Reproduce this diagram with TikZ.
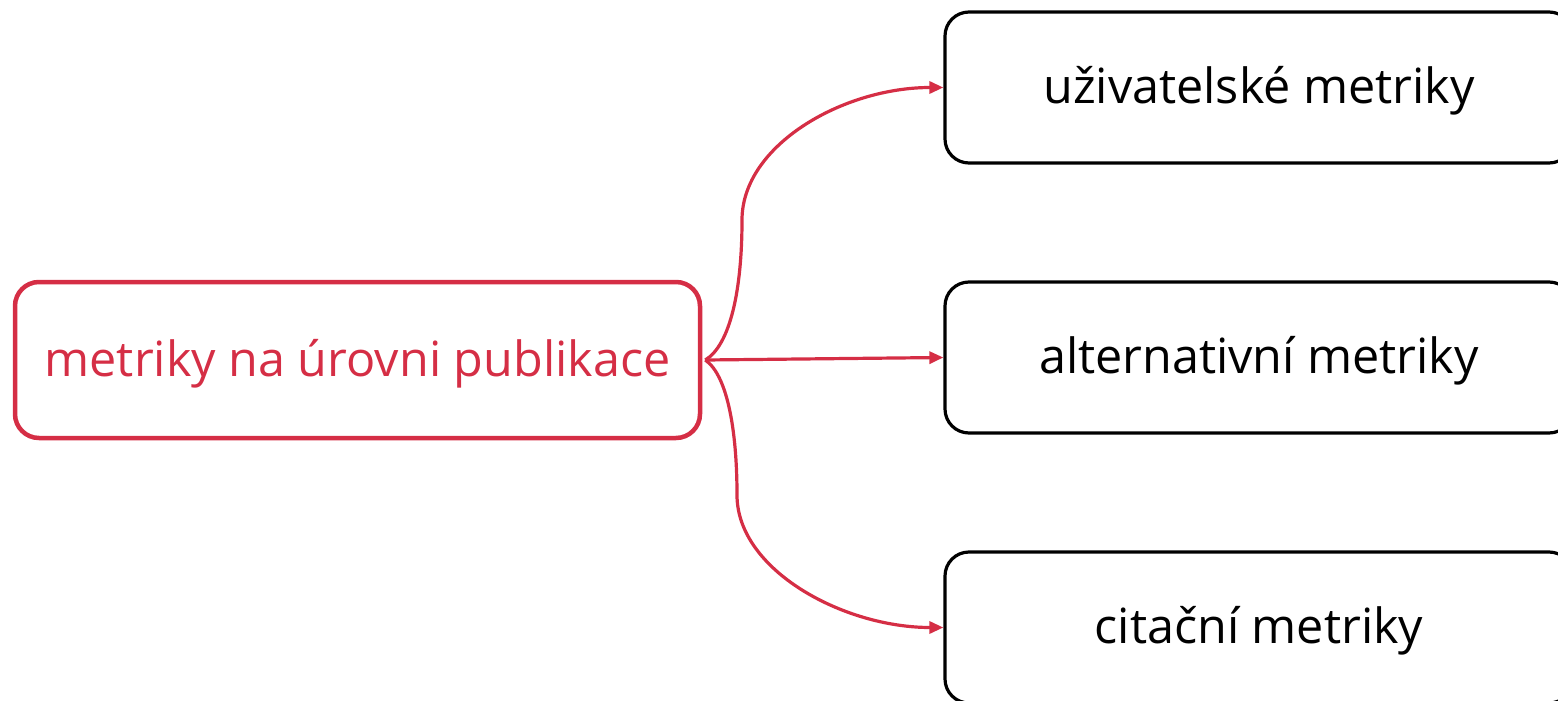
\documentclass[tikz,border=0pt]{standalone}
\usepackage{fontspec}
\setmainfont{Open Sans}
\usetikzlibrary{arrows.meta}
\definecolor{accent}{HTML}{D52E45}
\tikzset{
  boxtext/.style={font=\fontsize{48.5}{56}\selectfont, text height=44pt, text depth=12pt},
  rootbox/.style={boxtext, draw=accent, line width=4.5pt, rounded corners=24pt, minimum width=685pt, minimum height=156pt, text=accent},
  leafbox/.style={boxtext, draw=black, line width=3.2pt, rounded corners=24pt, minimum width=628pt, minimum height=151pt, text=black},
  conn/.style={draw=accent, line width=3.2pt, -{Triangle[length=14pt,width=12pt]}},
}
\begin{document}
\begin{tikzpicture}[x=1pt,y=-1pt]
\useasboundingbox (0,0) rectangle (1558,701);
\node[rootbox] (R) at (357.5,360) {metriky na úrovni publikace};
\node[leafbox] (U) at (1259,87.5) {uživatelské metriky};
\node[leafbox] (A) at (1259,357.5) {alternativní metriky};
\node[leafbox] (C) at (1259,627.5) {citační metriky};
\coordinate (s) at ([xshift=3pt]R.east);
\draw[conn] (s) .. controls +(25,-15) and +(0,70) .. (742,220) .. controls +(0,-75) and +(-100,0) .. (U.west);
\draw[conn] (s) -- (A.west);
\draw[conn] (s) .. controls +(22,15) and +(0,-65) .. (737,495) .. controls +(0,75) and +(-100,0) .. (C.west);
\end{tikzpicture}
\end{document}
